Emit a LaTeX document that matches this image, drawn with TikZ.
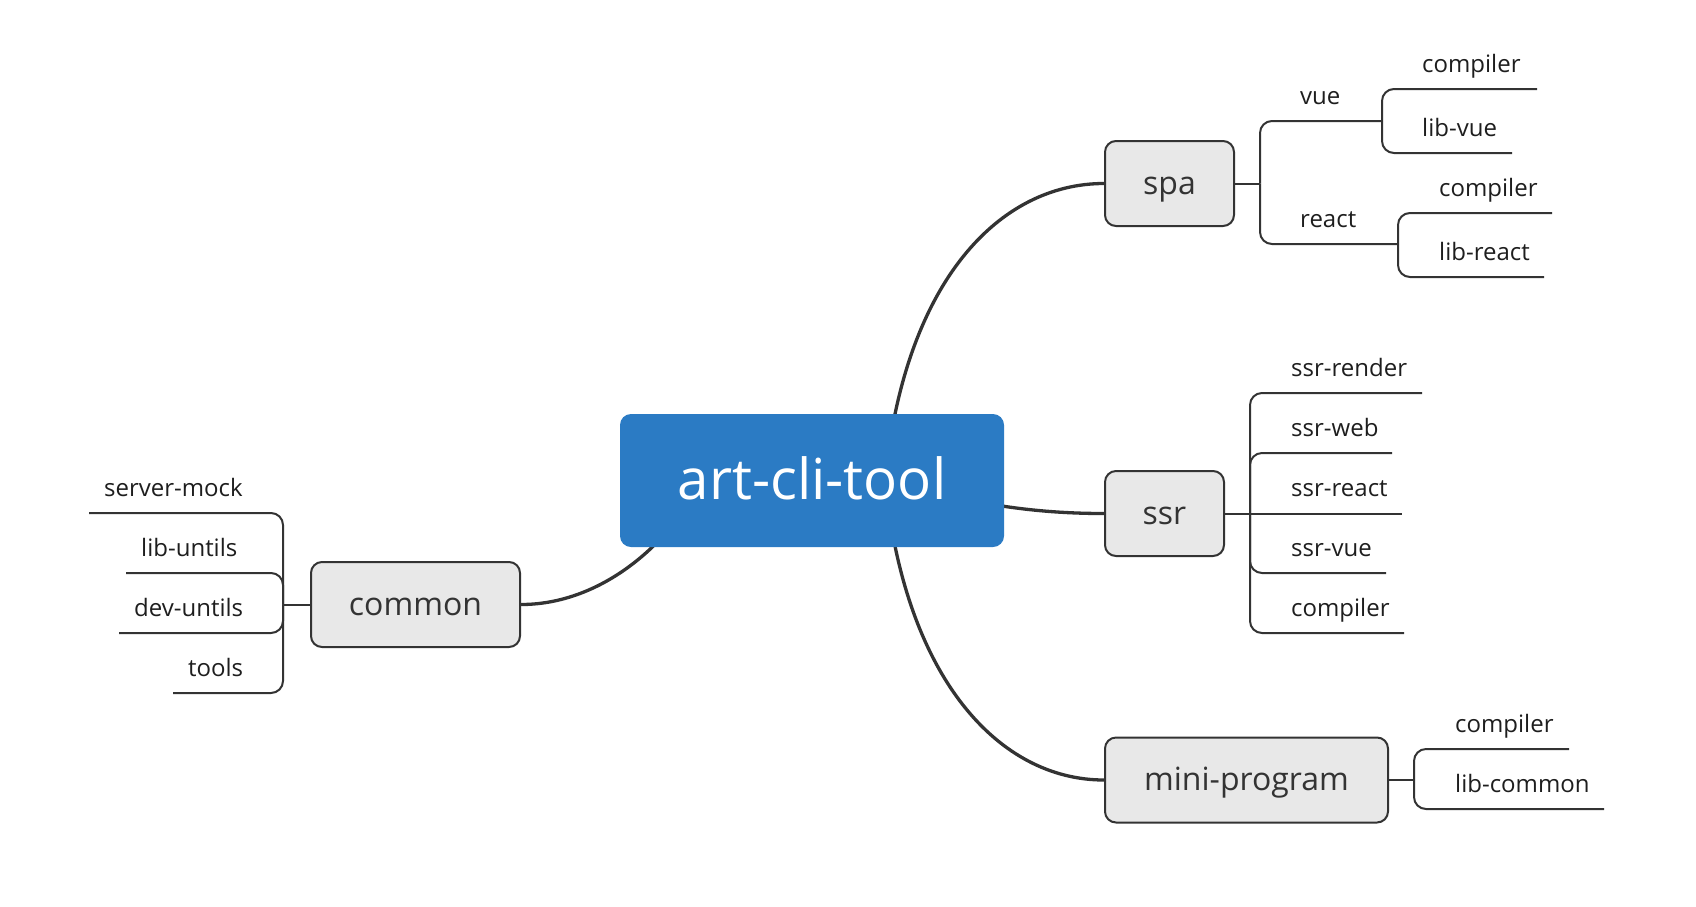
\documentclass[tikz,border=0pt]{standalone}
\usepackage{fontspec}
\setmainfont{Open Sans}
\usetikzlibrary{backgrounds}
\definecolor{rootblue}{HTML}{2B7BC4}
\definecolor{boxfill}{HTML}{E8E8E8}
\definecolor{linecol}{HTML}{333333}
\definecolor{txtcol}{HTML}{1E1E1E}
\begin{document}
\begin{tikzpicture}[x=1pt,y=-1pt,
  rootbox/.style={draw=none,fill=rootblue,rounded corners=11pt,minimum width=384pt,minimum height=133pt,inner sep=0pt,text=white,font=\fontsize{56.5}{60}\selectfont,text height=40pt,text depth=3pt},
  subbox/.style={draw=linecol,line width=2pt,fill=boxfill,rounded corners=11pt,minimum height=85pt,inner sep=0pt,text=linecol,font=\fontsize{32}{36}\selectfont,text height=24pt,text depth=3pt},
  leaf/.style={anchor=base west,inner sep=0pt,text=txtcol,font=\fontsize{24}{28}\selectfont},
  mainline/.style={draw=linecol,line width=3.3pt},
  branch/.style={draw=linecol,line width=2pt,rounded corners=12pt}
]
\useasboundingbox (0,0) rectangle (1696,906);
% main nodes
\node[rootbox] (root) at (812,480.5) {art-cli-tool};
\node[subbox,minimum width=129pt] (spa) at (1169.5,183.5) {spa};
\node[subbox,minimum width=119pt] (ssr) at (1164.5,513.5) {ssr};
\node[subbox,minimum width=283pt] (mini) at (1246.5,780) {mini-program};
\node[subbox,minimum width=209pt] (common) at (415.5,604.5) {common};
\coordinate (rootR) at (885,480);
\coordinate (rootL) at (700,480);
\begin{scope}[on background layer]
\draw[mainline] (rootR) .. controls (905,280) and (1000,183.5) .. (spa.west);
\draw[mainline] (rootR) .. controls (960,500) and (1020,513.5) .. (ssr.west);
\draw[mainline] (rootR) .. controls (905,680) and (1000,780) .. (mini.west);
\draw[mainline] (rootL) .. controls (680,530) and (610,604.5) .. (common.east);
\end{scope}
% spa group
\coordinate (spaJ) at (1260,183.5);
\coordinate (vueJ) at (1382,121);
\coordinate (reactJ) at (1398,244);
\coordinate (vcE) at (1537,89);
\coordinate (vlE) at (1512,153);
\coordinate (rcE) at (1552,213);
\coordinate (rlE) at (1544,277);
\draw[branch] (spa.east) -- (spaJ);
\draw[branch] (spaJ) |- (vueJ);
\draw[branch] (spaJ) |- (reactJ);
\draw[branch] (vueJ) |- (vcE);
\draw[branch] (vueJ) |- (vlE);
\draw[branch] (reactJ) |- (rcE);
\draw[branch] (reactJ) |- (rlE);
\node[leaf] (vue) at (1300,104) {vue};
\node[leaf] (react) at (1300,227) {react};
\node[leaf] (vcomp) at (1422,72) {compiler};
\node[leaf] (vlib) at (1422,136) {lib-vue};
\node[leaf] (rcomp) at (1439,196) {compiler};
\node[leaf] (rlib) at (1439,260) {lib-react};
% ssr group
\coordinate (ssrJ) at (1250,513.5);
\coordinate (s1E) at (1422,393);
\coordinate (s2E) at (1392,453);
\coordinate (s3E) at (1402,513.5);
\coordinate (s4E) at (1386,573);
\coordinate (s5E) at (1404,633);
\draw[branch] (ssr.east) -- (s3E);
\draw[branch] (ssrJ) |- (s1E);
\draw[branch] (ssrJ) |- (s2E);
\draw[branch] (ssrJ) |- (s4E);
\draw[branch] (ssrJ) |- (s5E);
\node[leaf] (srender) at (1291,376) {ssr-render};
\node[leaf] (sweb) at (1291,436) {ssr-web};
\node[leaf] (sreact) at (1291,496) {ssr-react};
\node[leaf] (svue) at (1291,556) {ssr-vue};
\node[leaf] (scomp) at (1291,616) {compiler};
% mini-program group
\coordinate (miniJ) at (1414,780);
\coordinate (m1E) at (1569,749);
\coordinate (m2E) at (1604,809);
\draw[branch] (mini.east) -- (miniJ);
\draw[branch] (miniJ) |- (m1E);
\draw[branch] (miniJ) |- (m2E);
\node[leaf] (mcomp) at (1455,732) {compiler};
\node[leaf] (mlib) at (1455,792) {lib-common};
% common group
\coordinate (comJ) at (283,604.5);
\coordinate (c1E) at (89,513);
\coordinate (c2E) at (126,573);
\coordinate (c3E) at (119,633);
\coordinate (c4E) at (173,693);
\draw[branch] (common.west) -- (comJ);
\draw[branch] (comJ) |- (c1E);
\draw[branch] (comJ) |- (c2E);
\draw[branch] (comJ) |- (c3E);
\draw[branch] (comJ) |- (c4E);
\node[leaf] (cmock) at (104,496) {server-mock};
\node[leaf] (clib) at (141,556) {lib-untils};
\node[leaf] (cdev) at (134,616) {dev-untils};
\node[leaf] (ctools) at (188,676) {tools};
\end{tikzpicture}
\end{document}
